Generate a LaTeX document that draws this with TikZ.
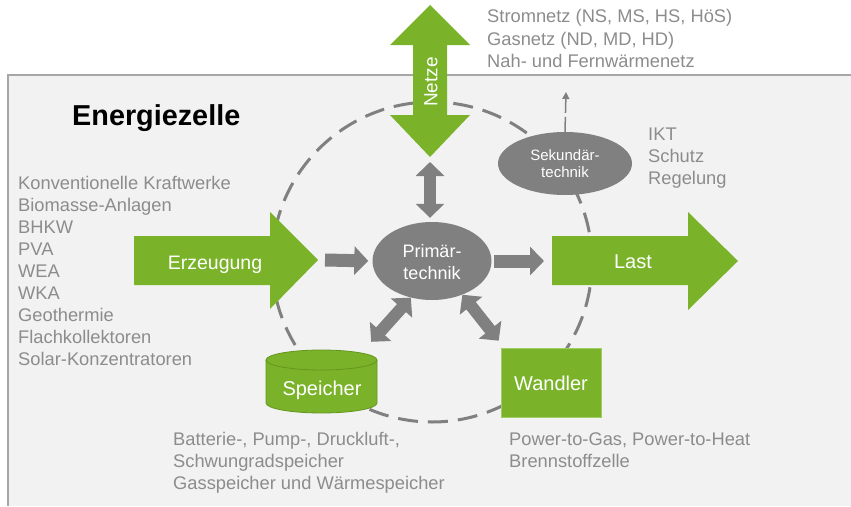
\documentclass[tikz,border=0pt]{standalone}
\usepackage{fontspec}
\setmainfont{Liberation Sans}
\usetikzlibrary{arrows.meta,shapes.geometric}
\definecolor{grn}{RGB}{122,179,41}
\definecolor{grndk}{RGB}{100,150,30}
\definecolor{grnlt}{RGB}{160,205,100}
\definecolor{bgc}{RGB}{242,242,242}
\definecolor{boxln}{RGB}{166,166,166}
\definecolor{gtxt}{RGB}{140,140,140}
\definecolor{gfill}{RGB}{128,128,128}
\begin{document}
\begin{tikzpicture}[x=1pt,y=-1pt,
  greenshape/.style={fill=grn, draw=none},
  wtxt/.style={text=white, font=\fontsize{20}{23}\selectfont, align=center, inner sep=0pt},
  gtext/.style={text=gtxt, font=\fontsize{18.3}{22}\selectfont, anchor=base west, inner sep=0pt},
  garrow/.style={draw=gfill, line width=13pt, -{Triangle[width=28pt,length=14pt]}},
  gdouble/.style={draw=gfill, line width=12pt, {Triangle[width=28pt,length=14pt]}-{Triangle[width=28pt,length=14pt]}},
  grayell/.style={ellipse, fill=gfill, draw=none, inner sep=0pt},
  dashring/.style={draw=gfill, line width=3pt, dash pattern=on 20pt off 10pt}
]
\useasboundingbox (0,0) rectangle (851,506);
% background box
\fill[bgc] (8,75) rectangle (851,506);
\draw[boxln, line width=1.5pt] (8,506) -- (8,75) -- (851,75);

% dashed ring
\draw[dashring] (432,262) circle[radius=160pt];

% title
\node[anchor=base west, inner sep=0pt, font=\bfseries\fontsize{28.8}{32}\selectfont] (title) at (72,125) {Energiezelle};

% Netze double arrow
\fill[grn] (430,5) -- (470,45) -- (447,45) -- (447,115) -- (470,115) -- (430,157) -- (390,115) -- (413,115) -- (413,45) -- (390,45) -- cycle;
\coordinate (netzetip) at (430,157);
\node[wtxt, rotate=90, font=\fontsize{19}{22}\selectfont] (netze) at (431,82) {Netze};

% Erzeugung arrow
\fill[grn] (134,236) -- (270,236) -- (270,212) -- (318,260) -- (270,309) -- (270,285) -- (134,285) -- cycle;
\coordinate (erztip) at (318,260);
\node[wtxt, anchor=base, font=\fontsize{19.5}{22}\selectfont] (erz) at (215,269) {Erzeugung};

% Last arrow
\fill[grn] (552,236) -- (688,236) -- (688,212) -- (738,261) -- (688,310) -- (688,285) -- (552,285) -- cycle;
\coordinate (lasttail) at (552,261);
\node[wtxt, anchor=base] (last) at (633,268) {Last};

% Primaertechnik
\node[grayell, minimum width=119pt, minimum height=78pt] (prim) at (432,261) {};
\node[wtxt, font=\fontsize{18}{22}\selectfont] (primtxt) at (432,262) {Primär-\\technik};

% Sekundaertechnik
\node[grayell, minimum width=134pt, minimum height=63pt] (sek) at (565,163.5) {};
\node[wtxt, font=\fontsize{15}{17}\selectfont] (sektxt) at (565,164) {Sekundär-\\technik};
\coordinate (sekup) at (566,92);
\draw[gfill, line width=1.5pt, dash pattern=on 15pt off 4pt, -{Triangle[width=7pt,length=7pt]}] (sek.north) -- (sekup);

% Speicher cylinder
\filldraw[fill=grn, draw=grndk, line width=0.8pt] (266,360) -- (266,403) arc[start angle=180, end angle=360, x radius=55.5pt, y radius=10pt] -- (377,360) arc[start angle=0, end angle=180, x radius=55.5pt, y radius=10pt] -- cycle;
\draw[grndk, line width=0.8pt] (266,360) arc[start angle=180, end angle=360, x radius=55.5pt, y radius=10pt];
\node[minimum width=111pt, minimum height=63pt, inner sep=0pt] (spei) at (321.5,381.5) {};
\node[wtxt, anchor=base] (speitxt) at (322,395) {Speicher};

% Wandler
\node[fill=grn, draw=grnlt, line width=0.6pt, minimum width=100pt, minimum height=69pt, inner sep=0pt] (wand) at (551,382.5) {};
\node[wtxt, anchor=base] (wandtxt) at (551,390) {Wandler};

% gray arrows
\draw[garrow, shorten >=4pt] ([xshift=7pt]erztip) -- (prim.west);
\draw[garrow, shorten <=2pt, shorten >=8pt] (prim.east) -- (lasttail);
\draw[gdouble, shorten <=5pt, shorten >=4pt] (netzetip) -- (netzetip |- prim.north);
\draw[gdouble] (prim.240) -- ([xshift=-6pt,yshift=8pt]spei.north east);
\draw[gdouble] (prim.-48) -- ([xshift=-2pt,yshift=7pt]wand.north west);

% gray text lists
\node[gtext] (n1) at (487,23) {Stromnetz (NS, MS, HS, HöS)};
\node[gtext] (n2) at (487,45) {Gasnetz (ND, MD, HD)};
\node[gtext] (n3) at (487,67) {Nah- und Fernwärmenetz};

\node[gtext] (s1) at (648,140) {IKT};
\node[gtext] (s2) at (648,162) {Schutz};
\node[gtext] (s3) at (648,184) {Regelung};

\foreach [count=\i] \t in {Konventionelle Kraftwerke, Biomasse-Anlagen, BHKW, PVA, WEA, WKA, Geothermie, Flachkollektoren, Solar-Konzentratoren}
  \node[gtext] (e\i) at (18,{189.5+22*(\i-1)}) {\t};

\node[gtext] (b1) at (173,445) {Batterie-, Pump-, Druckluft-,};
\node[gtext] (b2) at (173,467) {Schwungradspeicher};
\node[gtext] (b3) at (173,489) {Gasspeicher und Wärmespeicher};

\node[gtext] (w1) at (509,445) {Power-to-Gas, Power-to-Heat};
\node[gtext] (w2) at (509,467) {Brennstoffzelle};
\end{tikzpicture}
\end{document}
